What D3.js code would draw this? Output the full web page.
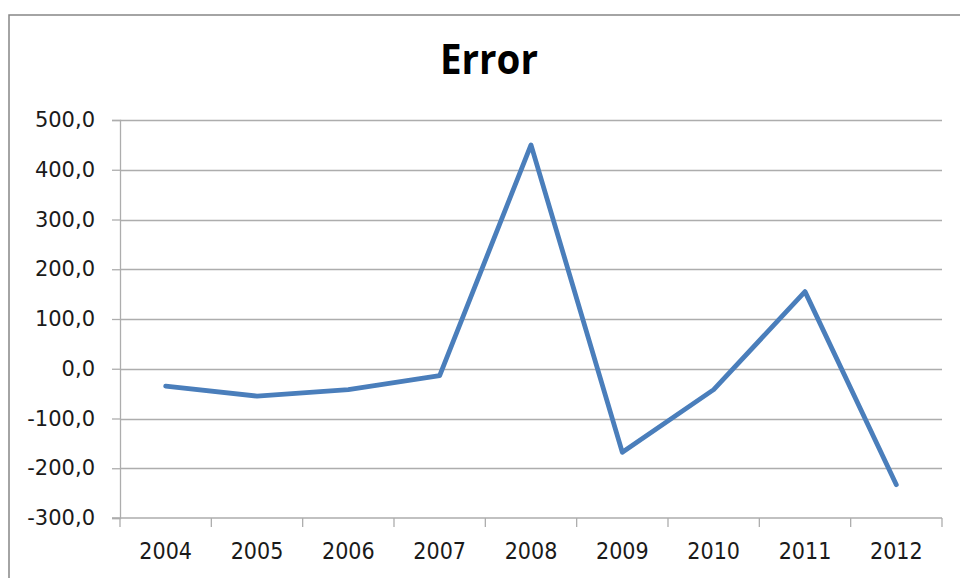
<!DOCTYPE html>
<html>
<head>
<meta charset="utf-8">
<script src="https://cdn.jsdelivr.net/npm/d3@7"></script>
<style>
  html, body { margin: 0; padding: 0; background: #fff; }
  svg { display: block; }
</style>
</head>
<body>
<svg id="chart" width="960" height="578"></svg>
<script>
// ---- data ----
const titleText = "Error";
const categories = ["2004", "2005", "2006", "2007", "2008", "2009", "2010", "2011", "2012"];
const errorValues = [-35, -55, -42, -14, 450, -168, -42, 155, -233];
const yTickValues = [-300, -200, -100, 0, 100, 200, 300, 400, 500];

// ---- layout ----
const W = 960, H = 578;
const plot = { left: 120, right: 942, top: 120, bottom: 518 };

const svg = d3.select("#chart");

// outer chart border
svg.append("rect")
  .attr("x", 9).attr("y", 15)
  .attr("width", 1000).attr("height", 600)
  .attr("fill", "#fff")
  .attr("stroke", "#868686").attr("stroke-width", 1.5);

const x = d3.scaleBand().domain(categories).range([plot.left, plot.right]).padding(0);
const y = d3.scaleLinear().domain([-300, 500]).range([plot.bottom, plot.top]);

const locale = d3.formatLocale({ decimal: ",", thousands: ".", grouping: [3], currency: ["", ""], minus: "-" });
const fmt = locale.format(".1f");

const gridColor = "#adadad";

// gridlines
svg.append("g").selectAll("line")
  .data(yTickValues.filter(v => v !== -300))
  .join("line")
  .attr("x1", plot.left).attr("x2", plot.right)
  .attr("y1", d => Math.round(y(d)) + 0.5).attr("y2", d => Math.round(y(d)) + 0.5)
  .attr("stroke", gridColor).attr("stroke-width", 1.3);

// y axis
const yAxis = svg.append("g")
  .attr("transform", `translate(${plot.left},0)`)
  .call(d3.axisLeft(y).tickValues(yTickValues).tickSize(8).tickPadding(17).tickFormat(fmt));
yAxis.select(".domain").attr("stroke", gridColor).attr("stroke-width", 1.3);
yAxis.selectAll(".tick line").attr("stroke", gridColor).attr("stroke-width", 1.3);
yAxis.selectAll("text")
  .attr("font-family", "'DejaVu Sans', sans-serif")
  .attr("font-size", 21).attr("fill", "#1a1a1a");

// x axis line
svg.append("line")
  .attr("x1", plot.left - 8).attr("x2", plot.right)
  .attr("y1", y(-300)).attr("y2", y(-300))
  .attr("stroke", gridColor).attr("stroke-width", 1.3);

// x boundary ticks
const boundaries = categories.map(c => x(c)).concat([plot.right]);
svg.append("g").selectAll("line")
  .data(boundaries)
  .join("line")
  .attr("x1", d => d).attr("x2", d => d)
  .attr("y1", y(-300)).attr("y2", y(-300) + 9)
  .attr("stroke", gridColor).attr("stroke-width", 1.3);

// x labels
const xAxis = svg.append("g")
  .attr("transform", `translate(0,${y(-300)})`)
  .call(d3.axisBottom(x).tickSize(0).tickPadding(25));
xAxis.select(".domain").remove();
xAxis.selectAll("text")
  .attr("font-family", "'DejaVu Sans Condensed', 'Liberation Sans Narrow', 'DejaVu Sans', sans-serif")
  .attr("font-size", 23).attr("fill", "#1a1a1a");

// line
const line = d3.line()
  .x((d, i) => x(categories[i]) + x.bandwidth() / 2)
  .y(d => y(d));

svg.append("path")
  .datum(errorValues)
  .attr("d", line)
  .attr("fill", "none")
  .attr("stroke", "#4a7ebb")
  .attr("stroke-width", 4.8)
  .attr("stroke-linejoin", "round")
  .attr("stroke-linecap", "round");

// title
svg.append("text")
  .attr("x", 489).attr("y", 74)
  .attr("text-anchor", "middle")
  .attr("font-family", "'Open Sans', sans-serif")
  .attr("font-weight", "bold")
  .attr("font-size", 42)
  .attr("textLength", 98)
  .attr("lengthAdjust", "spacingAndGlyphs")
  .attr("fill", "#000")
  .text(titleText);
</script>
</body>
</html>
